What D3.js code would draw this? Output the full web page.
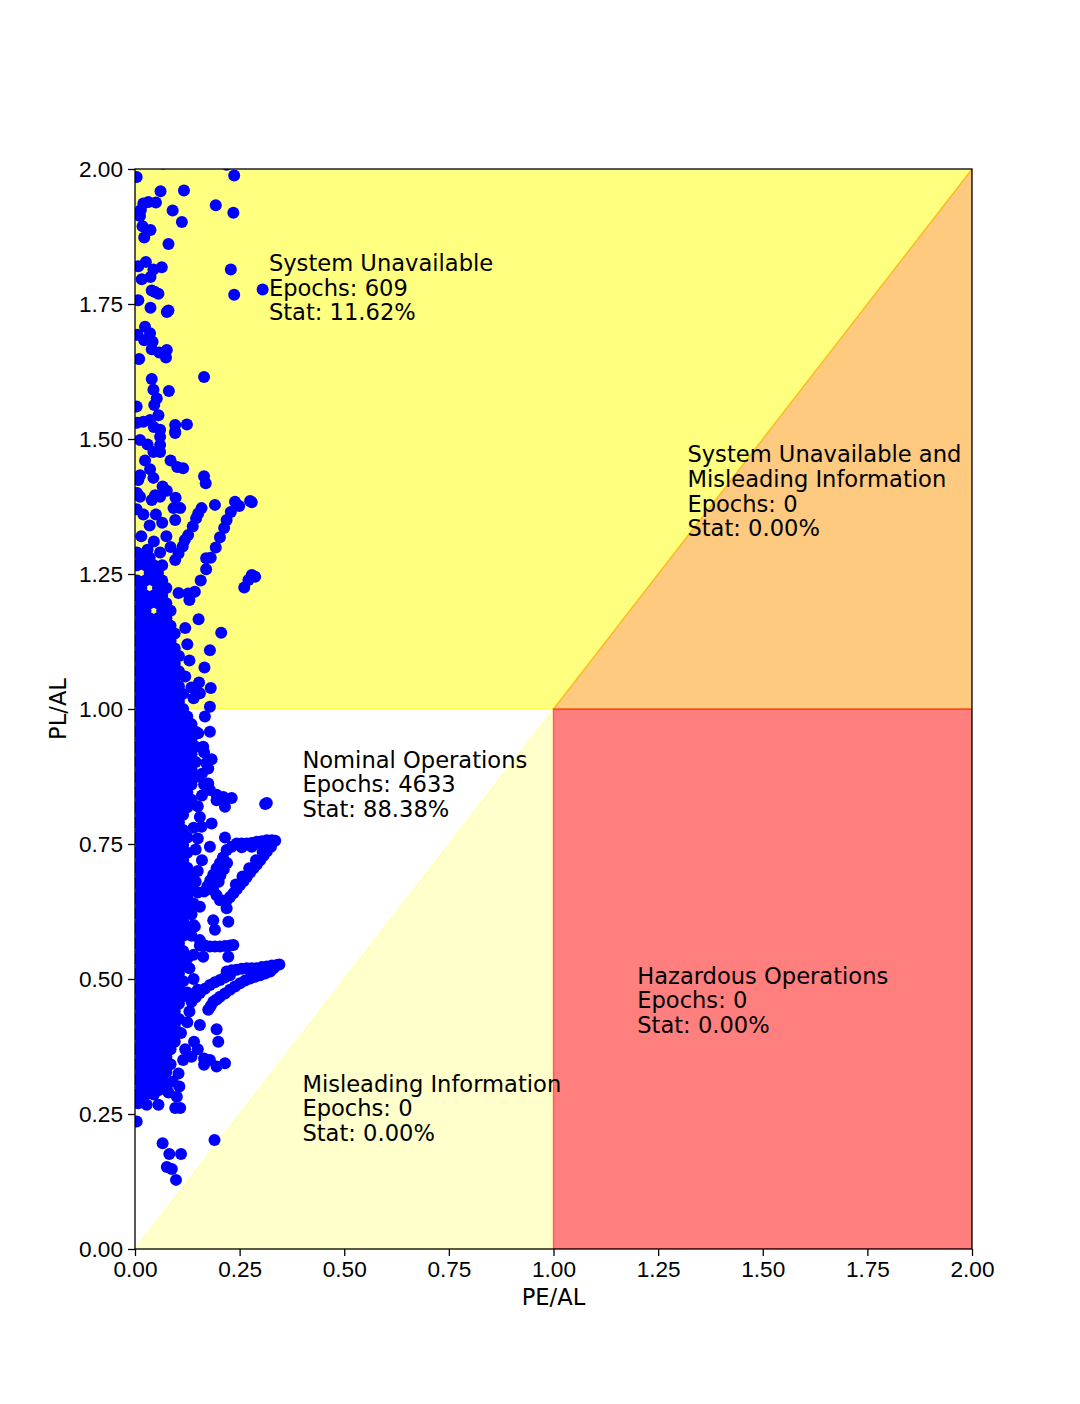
<!DOCTYPE html>
<html lang="en">
<head>
<meta charset="UTF-8">
<title>Stanford Diagram</title>
<script src="https://d3js.org/d3.v7.min.js"></script>
<style>
  html, body { margin: 0; padding: 0; background: #fff; }
  svg { display: block; font-family: "DejaVu Sans", sans-serif; }
  .tick text { font-size: 22.6px; fill: #000; }
  .tick line { stroke: #000; stroke-width: 1.3; }
  .note { font-size: 22.6px; fill: #000; }
  .axis-label { font-size: 22.6px; fill: #000; }
</style>
</head>
<body>
<svg id="chart" width="1080" height="1404"></svg>
<script>
// ---- data ----
const xTicks = [0, 0.25, 0.5, 0.75, 1.0, 1.25, 1.5, 1.75, 2.0];
const yTicks = [0, 0.25, 0.5, 0.75, 1.0, 1.25, 1.5, 1.75, 2.0];

// integrity regions (PE/AL, PL/AL corners)
const zoneSysUnavail = [[0, 1], [1, 1], [2, 2], [0, 2]];
const zoneMisleading = [[0, 0], [1, 1], [1, 0]];
const zoneSysUnavailMI = [[1, 1], [2, 2], [2, 1]];
const zoneHazardous = [[1, 0], [2, 0], [2, 1], [1, 1]];

const notes = [
  { x: 0.32, y: 1.72, lines: ["System Unavailable", "Epochs: 609", "Stat: 11.62%"] },
  { x: 1.32, y: 1.32, lines: ["System Unavailable and", "Misleading Information", "Epochs: 0", "Stat: 0.00%"] },
  { x: 0.40, y: 0.80, lines: ["Nominal Operations", "Epochs: 4633", "Stat: 88.38%"] },
  { x: 1.20, y: 0.40, lines: ["Hazardous Operations", "Epochs: 0", "Stat: 0.00%"] },
  { x: 0.40, y: 0.20, lines: ["Misleading Information", "Epochs: 0", "Stat: 0.00%"] }
];

// dense core of epochs: [PL/AL, PE/AL values...]
const denseRows = [
  [0.286, 0.005,0.025,0.045],
  [0.300, 0.015,0.035,0.055,0.075],
  [0.314, 0.005,0.025,0.045,0.065],
  [0.328, 0.015,0.035,0.055,0.075],
  [0.342, 0.005,0.025,0.045,0.065,0.085],
  [0.356, 0.015,0.035,0.055,0.075],
  [0.370, 0.005,0.025,0.045,0.065,0.085],
  [0.384, 0.015,0.035,0.055,0.075,0.095],
  [0.398, 0.005,0.025,0.045,0.065,0.085],
  [0.412, 0.015,0.035,0.055,0.075,0.095],
  [0.426, 0.005,0.025,0.045,0.065,0.085,0.105],
  [0.440, 0.015,0.035,0.055,0.075,0.095],
  [0.454, 0.005,0.025,0.045,0.065,0.085,0.105],
  [0.468, 0.015,0.035,0.055,0.075,0.095,0.115],
  [0.482, 0.005,0.025,0.045,0.065,0.085,0.105],
  [0.496, 0.015,0.035,0.055,0.075,0.095,0.115],
  [0.510, 0.005,0.025,0.045,0.065,0.085,0.105],
  [0.524, 0.015,0.035,0.055,0.075,0.095,0.115],
  [0.538, 0.005,0.025,0.045,0.065,0.085,0.105,0.125],
  [0.552, 0.015,0.035,0.055,0.075,0.095,0.115],
  [0.566, 0.005,0.025,0.045,0.065,0.085,0.105],
  [0.580, 0.015,0.035,0.055,0.075,0.095,0.115],
  [0.594, 0.005,0.025,0.045,0.065,0.085,0.105,0.125],
  [0.608, 0.015,0.035,0.055,0.075,0.095,0.115],
  [0.622, 0.005,0.025,0.045,0.065,0.085,0.105,0.125],
  [0.636, 0.015,0.035,0.055,0.075,0.095,0.115,0.135],
  [0.650, 0.005,0.025,0.045,0.065,0.085,0.105,0.125],
  [0.664, 0.015,0.035,0.055,0.075,0.095,0.115,0.135],
  [0.678, 0.005,0.025,0.045,0.065,0.085,0.105,0.125],
  [0.692, 0.015,0.035,0.055,0.075,0.095,0.115,0.135],
  [0.706, 0.005,0.025,0.045,0.065,0.085,0.105,0.125],
  [0.720, 0.015,0.035,0.055,0.075,0.095,0.115],
  [0.734, 0.005,0.025,0.045,0.065,0.085,0.105,0.125],
  [0.748, 0.015,0.035,0.055,0.075,0.095,0.115],
  [0.762, 0.005,0.025,0.045,0.065,0.085,0.105,0.125],
  [0.776, 0.015,0.035,0.055,0.075,0.095,0.115],
  [0.790, 0.005,0.025,0.045,0.065,0.085,0.105],
  [0.804, 0.015,0.035,0.055,0.075,0.095,0.115],
  [0.818, 0.005,0.025,0.045,0.065,0.085,0.105,0.125],
  [0.832, 0.015,0.035,0.055,0.075,0.095,0.115,0.135],
  [0.846, 0.005,0.025,0.045,0.065,0.085,0.105,0.125],
  [0.860, 0.015,0.035,0.055,0.075,0.095,0.115,0.135],
  [0.874, 0.005,0.025,0.045,0.065,0.085,0.105,0.125,0.145],
  [0.888, 0.015,0.035,0.055,0.075,0.095,0.115,0.135],
  [0.902, 0.005,0.025,0.045,0.065,0.085,0.105,0.125,0.145],
  [0.916, 0.015,0.035,0.055,0.075,0.095,0.115,0.135],
  [0.930, 0.005,0.025,0.045,0.065,0.085,0.105,0.125,0.145],
  [0.944, 0.015,0.035,0.055,0.075,0.095,0.115,0.135],
  [0.958, 0.005,0.025,0.045,0.065,0.085,0.105,0.125,0.145],
  [0.972, 0.015,0.035,0.055,0.075,0.095,0.115,0.135],
  [0.986, 0.005,0.025,0.045,0.065,0.085,0.105,0.125],
  [1.000, 0.015,0.035,0.055,0.075,0.095,0.115],
  [1.014, 0.005,0.025,0.045,0.065,0.085,0.105],
  [1.028, 0.015,0.035,0.055,0.075,0.095,0.115],
  [1.042, 0.005,0.025,0.045,0.065,0.085,0.105],
  [1.056, 0.015,0.035,0.055,0.075,0.095],
  [1.070, 0.005,0.025,0.045,0.065,0.085,0.105],
  [1.084, 0.015,0.035,0.055,0.075,0.095],
  [1.098, 0.005,0.025,0.045,0.065,0.085,0.105],
  [1.112, 0.015,0.035,0.055,0.075,0.095],
  [1.126, 0.005,0.025,0.045,0.065,0.085],
  [1.140, 0.015,0.035,0.055,0.075,0.095],
  [1.154, 0.005,0.025,0.045,0.065,0.085],
  [1.168, 0.015,0.035,0.055,0.075],
  [1.182, 0.005,0.025,0.065,0.085],
  [1.196, 0.015,0.035,0.055,0.075],
  [1.210, 0.005,0.025,0.045,0.065],
  [1.224, 0.015,0.055,0.075],
  [1.238, 0.005,0.025,0.045,0.065],
  [1.252, 0.035,0.055],
  [1.266, 0.005,0.025,0.045,0.065],
  [1.280, 0.015,0.035]
];

// scattered epochs above the dense core, [PE/AL, PL/AL]
const upperPoints = [
  [0.004,1.985],[0.067,2.01],[0.219,2.008],[0.237,1.988],[0.061,1.959],[0.117,1.96],[0.193,1.933],[0.235,1.919],
  [0.09,1.923],[0.112,1.902],[0.02,1.936],[0.032,1.939],[0.05,1.938],[0.014,1.924],[0.012,1.913],[0.018,1.894],
  [0.037,1.887],[0.022,1.873],[0.08,1.861],[0.008,1.82],[0.026,1.828],[0.044,1.814],[0.064,1.818],[0.037,1.80],
  [0.016,1.796],[0.229,1.814],[0.305,1.777],[0.237,1.767],[0.04,1.775],[0.056,1.769],[0.048,1.772],[0.008,1.757],
  [0.037,1.743],[0.08,1.738],[0.076,1.735],[0.024,1.708],[0.006,1.693],[0.036,1.696],[0.022,1.683],[0.042,1.68],
  [0.04,1.666],[0.058,1.66],[0.076,1.665],[0.074,1.651],[0.01,1.648],[0.165,1.615],[0.04,1.611],[0.044,1.591],
  [0.081,1.589],[0.052,1.575],[0.046,1.563],[0.004,1.56],[0.056,1.544],[0.02,1.532],[0.036,1.535],[0.096,1.526],
  [0.124,1.527],[0.06,1.517],[0.096,1.514],[0.045,1.522],[0.005,1.53],[0.012,1.498],[0.06,1.504],[0.06,1.489],
  [0.096,1.511],[0.044,1.476],[0.06,1.476],[0.03,1.49],[0.024,1.46],[0.085,1.46],[0.101,1.448],[0.115,1.446],
  [0.036,1.444],[0.044,1.428],[0.012,1.433],[0.008,1.424],[0.165,1.431],[0.169,1.418],[0.066,1.412],[0.076,1.404],
  [0.048,1.396],[0.06,1.393],[0.04,1.387],[0.012,1.393],[0.097,1.391],[0.092,1.372],[0.108,1.372],[0.096,1.35],
  [0.191,1.378],[0.005,1.40],[0.004,1.37],[0.02,1.36],[0.05,1.36],[0.035,1.34],[0.065,1.345],[0.015,1.32],
  [0.045,1.31],[0.075,1.32],[0.03,1.295],[0.06,1.29],[0.085,1.30],[0.005,1.29]
];

// trajectories leaving the core, [PE/AL, PL/AL]
const trackPoints = [
  [0.159,1.372],[0.151,1.362],[0.146,1.353],[0.138,1.338],[0.127,1.322],[0.119,1.313],[0.114,1.301],[0.104,1.288],[0.096,1.276],
  [0.239,1.384],[0.249,1.376],[0.275,1.385],[0.279,1.383],[0.229,1.365],[0.219,1.35],[0.213,1.335],[0.203,1.318],
  [0.193,1.299],[0.181,1.28],[0.17,1.279],[0.17,1.259],[0.157,1.238],[0.143,1.217],[0.127,1.214],[0.13,1.202],[0.104,1.215],
  [0.279,1.248],[0.287,1.245],[0.271,1.239],[0.261,1.225],
  [0.152,1.166],[0.206,1.141],[0.179,1.109],[0.166,1.077],[0.153,1.049],[0.181,1.039],[0.155,1.029],[0.179,1.004],
  [0.12,1.15],[0.125,1.12],[0.13,1.09],[0.12,1.06],[0.135,1.04],[0.14,1.02],
  [0.167,0.986],[0.151,0.955],[0.179,0.958],[0.163,0.93],[0.183,0.907],[0.175,0.89],[0.175,0.862],[0.179,0.85],
  [0.195,0.831],[0.231,0.835],[0.215,0.819],[0.211,0.837],[0.195,0.841],[0.311,0.824],[0.315,0.826],
  [0.159,0.782],[0.183,0.788],[0.215,0.762],[0.179,0.745],
  [0.219,0.739],[0.231,0.745],[0.243,0.751],[0.255,0.751],[0.267,0.751],[0.279,0.752],[0.291,0.754],[0.303,0.755],
  [0.315,0.757],[0.327,0.757],[0.335,0.756],[0.255,0.744],[0.279,0.745],[0.303,0.748],
  [0.21,0.725],[0.203,0.715],[0.195,0.705],[0.187,0.693],[0.18,0.683],[0.173,0.672],[0.165,0.662],
  [0.22,0.715],[0.212,0.703],[0.204,0.692],[0.196,0.68],
  [0.325,0.745],[0.315,0.736],[0.307,0.728],[0.299,0.72],[0.291,0.712],[0.283,0.705],[0.275,0.697],[0.267,0.689],
  [0.259,0.681],[0.251,0.674],[0.243,0.666],[0.235,0.659],[0.227,0.652],[0.219,0.646],[0.211,0.645],[0.203,0.646],
  [0.195,0.655],[0.187,0.665],[0.2,0.68],[0.305,0.735],[0.289,0.72],[0.273,0.705],[0.257,0.69],[0.241,0.675],
  [0.219,0.631],[0.223,0.606],[0.187,0.609],[0.191,0.591],[0.155,0.634],[0.143,0.597],[0.155,0.572],
  [0.155,0.562],[0.167,0.562],[0.179,0.56],[0.191,0.56],[0.203,0.56],[0.215,0.561],[0.227,0.562],[0.235,0.563],
  [0.163,0.541],[0.223,0.541],
  [0.219,0.514],[0.231,0.516],[0.243,0.517],[0.255,0.519],[0.267,0.52],[0.279,0.52],[0.291,0.52],[0.303,0.522],
  [0.315,0.523],[0.327,0.525],[0.339,0.526],[0.345,0.527],
  [0.331,0.52],[0.323,0.514],[0.311,0.51],[0.299,0.507],[0.287,0.504],[0.275,0.501],[0.263,0.497],[0.251,0.492],
  [0.239,0.486],[0.227,0.48],[0.215,0.473],[0.203,0.467],[0.195,0.462],[0.187,0.458],[0.181,0.45],[0.175,0.443],
  [0.227,0.507],[0.215,0.503],[0.203,0.498],[0.191,0.494],[0.179,0.489],[0.167,0.482],[0.155,0.474],[0.145,0.466],[0.135,0.458],
  [0.165,0.92],[0.17,0.90],[0.16,0.88],[0.165,0.86],[0.16,0.84],[0.15,0.82],[0.155,0.80],[0.14,0.78],[0.15,0.76],
  [0.145,0.74],[0.16,0.72],[0.15,0.70],[0.145,0.68],[0.15,0.66],[0.14,0.64],[0.135,0.62],[0.14,0.60],[0.135,0.58],
  [0.14,0.545],[0.13,0.52],[0.14,0.50],[0.15,0.48],[0.125,0.475]
];

// sparse epochs below the core, [PE/AL, PL/AL]
const lowPoints = [
  [0.155,0.415],[0.195,0.407],[0.199,0.384],[0.141,0.384],[0.135,0.356],[0.165,0.353],[0.179,0.35],[0.195,0.338],
  [0.215,0.344],[0.165,0.341],[0.15,0.37],[0.12,0.37],[0.115,0.35],[0.11,0.40],[0.125,0.42],[0.13,0.44],
  [0.104,0.325],[0.106,0.301],[0.1,0.282],[0.096,0.261],[0.108,0.261],[0.056,0.294],[0.056,0.267],[0.028,0.267],
  [0.008,0.27],[0.004,0.236],[0.08,0.29],[0.09,0.31],
  [0.066,0.196],[0.082,0.176],[0.11,0.176],[0.076,0.152],[0.088,0.148],[0.098,0.128],[0.19,0.202]
];

// ---- chart ----
const svg = d3.select("#chart");
const margin = { left: 135, right: 108, top: 169, bottom: 155 };
const W = +svg.attr("width"), H = +svg.attr("height");
const x = d3.scaleLinear().domain([0, 2]).range([margin.left, W - margin.right]);
const y = d3.scaleLinear().domain([0, 2]).range([H - margin.bottom, margin.top]);

svg.append("defs").append("clipPath").attr("id", "plot-clip")
  .append("rect")
    .attr("x", x(0)).attr("y", y(2))
    .attr("width", x(2) - x(0)).attr("height", y(0) - y(2));

const poly = pts => "M" + pts.map(p => x(p[0]) + "," + y(p[1])).join("L") + "Z";

const zones = [
  { pts: zoneSysUnavail, color: "#ffff00", alpha: 0.5 },
  { pts: zoneMisleading, color: "#ffff00", alpha: 0.2 },
  { pts: zoneSysUnavailMI, color: "#fb9600", alpha: 0.5 },
  { pts: zoneHazardous, color: "#ff0000", alpha: 0.5 }
];

const zoneG = svg.append("g").attr("clip-path", "url(#plot-clip)");
zones.forEach(z => {
  zoneG.append("path")
    .attr("d", poly(z.pts))
    .attr("fill", z.color).attr("fill-opacity", z.alpha)
    .attr("stroke", z.color).attr("stroke-opacity", z.alpha)
    .attr("stroke-width", 1.4);
});

const allPoints = denseRows.flatMap(([py, ...xs]) => xs.map(px => [px, py]))
  .concat(upperPoints, trackPoints, lowPoints);

svg.append("g").attr("clip-path", "url(#plot-clip)")
  .selectAll("circle")
  .data(allPoints)
  .join("circle")
    .attr("cx", d => x(d[0]))
    .attr("cy", d => y(d[1]))
    .attr("r", 6)
    .attr("fill", "blue");

// axes
const fmt = d3.format(".2f");
const xAxis = svg.append("g")
  .attr("transform", `translate(0,${y(0)})`)
  .call(d3.axisBottom(x).tickValues(xTicks).tickFormat(fmt).tickSize(7).tickPadding(5).tickSizeOuter(0));
const yAxis = svg.append("g")
  .attr("transform", `translate(${x(0)},0)`)
  .call(d3.axisLeft(y).tickValues(yTicks).tickFormat(fmt).tickSize(7).tickPadding(5).tickSizeOuter(0));
xAxis.select(".domain").remove();
yAxis.select(".domain").remove();
svg.selectAll(".tick text").attr("font-family", null).attr("font-size", null);

svg.append("rect")
  .attr("x", x(0)).attr("y", y(2))
  .attr("width", x(2) - x(0)).attr("height", y(0) - y(2))
  .attr("fill", "none").attr("stroke", "#000").attr("stroke-width", 1.3);

svg.append("text").attr("class", "axis-label")
  .attr("x", (x(0) + x(2)) / 2).attr("y", 1305)
  .attr("text-anchor", "middle").text("PE/AL");
svg.append("text").attr("class", "axis-label")
  .attr("transform", `translate(66,${(y(0) + y(2)) / 2}) rotate(-90)`)
  .attr("text-anchor", "middle").text("PL/AL");

// region annotations (last line sits on the given baseline)
const lineStep = 24.6;
notes.forEach(n => {
  const t = svg.append("text").attr("class", "note");
  n.lines.forEach((line, i) => {
    t.append("tspan")
      .attr("x", x(n.x))
      .attr("y", y(n.y) - (n.lines.length - 1 - i) * lineStep)
      .text(line);
  });
});
</script>
</body>
</html>
